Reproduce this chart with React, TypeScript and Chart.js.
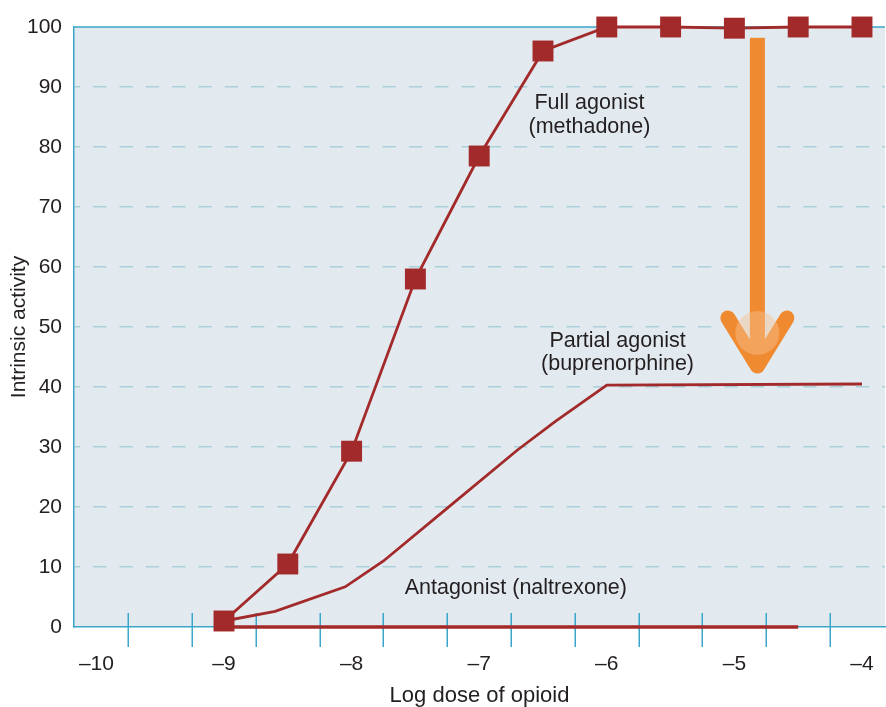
import { useEffect, useRef } from 'react';
import { Chart, registerables } from 'chart.js';

Chart.register(...registerables);

// ---- data ----
const doseSteps = [-9, -8.5, -8, -7.5, -7, -6.5, -6, -5.5, -5, -4.5, -4];
const methadoneActivity = [1, 10.5, 29.3, 58, 78.5, 96, 100, 100, 99.8, 100, 100];

const buprenorphineDose = [-9, -8.6, -8.05, -7.75, -7.25, -6.7, -6.4, -6, -4];
const buprenorphineActivity = [1, 2.6, 6.7, 11, 19.8, 29.5, 34.3, 40.3, 40.5];

const naltrexoneDose = [-9, -4.5];
const naltrexoneActivity = [0, 0];

const xTickValues = [-10, -9, -8, -7, -6, -5, -4];
const xMinorTickValues = [-9.75, -9.25, -8.75, -8.25, -7.75, -7.25, -6.75, -6.25, -5.75, -5.25, -4.75, -4.25];
const yTickValues = [0, 10, 20, 30, 40, 50, 60, 70, 80, 90, 100];

const xMin = -10.1755;
const xMax = -3.8197;

const labelTexts = [
  ['Full agonist', '(methadone)'],
  ['Partial agonist', '(buprenorphine)'],
  ['Antagonist (naltrexone)'],
];
const labelDose = [-6.136, -5.916, -6.713];
const labelActivity = [
  [87.4, 83.3],
  [47.7, 43.85],
  [6.5],
];

const arrowDose = -4.82;
const arrowFromActivity = 98.2;
const arrowToActivity = 43.5;

// ---- styles ----
const RED = '#A32A2A';
const AXIS = '#3AA6C9';
const GRID = '#A9D0DB';
const BG = '#E2EAF0';
const TEXT = '#231F20';
const ORANGE = '#F08A30';
const FONT = "'Liberation Sans', Arial, Helvetica, sans-serif";

const fmt = (v: number) => (v < 0 ? '\u2013' + Math.abs(v) : String(v));

const decorPlugin = {
  id: 'decor',
  beforeDraw(chart: any) {
    const { ctx, chartArea: a } = chart;
    ctx.save();
    ctx.fillStyle = BG;
    ctx.fillRect(a.left, a.top, a.right - a.left, a.bottom - a.top);
    ctx.restore();
  },
  beforeDatasetsDraw(chart: any) {
    const { ctx, chartArea: a } = chart;
    const xs = chart.scales.x;
    const ys = chart.scales.y;
    ctx.save();
    ctx.strokeStyle = AXIS;
    ctx.lineWidth = 1.5;
    ctx.beginPath();
    ctx.moveTo(a.left, a.top);
    ctx.lineTo(a.right, a.top);
    ctx.stroke();
    const y0 = ys.getPixelForValue(0);
    ctx.beginPath();
    for (const v of xMinorTickValues) {
      const px = Math.round(xs.getPixelForValue(v)) + 0.25;
      ctx.moveTo(px, y0 - 14);
      ctx.lineTo(px, y0 + 20);
    }
    ctx.stroke();
    ctx.restore();
  },
  afterDatasetsDraw(chart: any) {
    const { ctx } = chart;
    const xs = chart.scales.x;
    const ys = chart.scales.y;
    ctx.save();
    // labels
    ctx.fillStyle = TEXT;
    ctx.font = `21.5px ${FONT}`;
    ctx.textAlign = 'center';
    ctx.textBaseline = 'middle';
    labelTexts.forEach((lines, i) => {
      const px = xs.getPixelForValue(labelDose[i]);
      lines.forEach((t, j) => {
        ctx.fillText(t, px, ys.getPixelForValue(labelActivity[i][j]));
      });
    });
    // arrow
    const ax = xs.getPixelForValue(arrowDose);
    const top = ys.getPixelForValue(arrowFromActivity);
    const tip = ys.getPixelForValue(arrowToActivity);
    ctx.fillStyle = ORANGE;
    ctx.fillRect(ax - 7.5, top, 15, tip - 10 - top);
    ctx.strokeStyle = ORANGE;
    ctx.lineWidth = 15;
    ctx.lineCap = 'round';
    ctx.lineJoin = 'round';
    ctx.beginPath();
    ctx.moveTo(ax - 29.5, tip - 48);
    ctx.lineTo(ax, tip);
    ctx.lineTo(ax + 29.5, tip - 48);
    ctx.stroke();
    ctx.fillStyle = 'rgba(246, 192, 145, 0.45)';
    ctx.beginPath();
    ctx.arc(ax, tip - 33, 22, 0, Math.PI * 2);
    ctx.fill();
    ctx.restore();
  },
};

export default function App() {
  const ref = useRef<HTMLCanvasElement | null>(null);

  useEffect(() => {
    if (!ref.current) return;
    const chart = new Chart(ref.current, {
      type: 'line',
      data: {
        datasets: [
          {
            label: 'Full agonist (methadone)',
            data: doseSteps.map((x, i) => ({ x, y: methadoneActivity[i] })),
            borderColor: RED,
            borderWidth: 2.8,
            pointStyle: 'rect',
            pointRadius: 14.8,
            pointHoverRadius: 14.8,
            pointBackgroundColor: RED,
            pointBorderWidth: 0,
            tension: 0,
            clip: false,
          },
          {
            label: 'Partial agonist (buprenorphine)',
            data: buprenorphineDose.map((x, i) => ({ x, y: buprenorphineActivity[i] })),
            borderColor: RED,
            borderWidth: 2.8,
            pointRadius: 0,
            tension: 0,
            clip: false,
          },
          {
            label: 'Antagonist (naltrexone)',
            data: naltrexoneDose.map((x, i) => ({ x, y: naltrexoneActivity[i] })),
            borderColor: RED,
            borderWidth: 3.5,
            pointRadius: 0,
            tension: 0,
            clip: false,
          },
        ],
      },
      options: {
        animation: false,
        responsive: false,
        devicePixelRatio: 1,
        layout: { autoPadding: false, padding: { top: 27, right: 1, left: 0, bottom: 0 } },
        plugins: { legend: { display: false }, tooltip: { enabled: false } },
        scales: {
          x: {
            type: 'linear',
            min: xMin,
            max: xMax,
            afterBuildTicks: (s: any) => {
              s.ticks = xTickValues.map((value) => ({ value }));
            },
            afterFit: (s: any) => {
              s.height = 80;
              s.paddingLeft = 0;
              s.paddingRight = 0;
            },
            grid: { display: false, drawTicks: false },
            border: { display: true, color: AXIS, width: 1.5 },
            ticks: {
              padding: 25,
              color: TEXT,
              font: { family: FONT, size: 21 },
              maxRotation: 0,
              autoSkip: false,
              callback: (v: any) => fmt(Number(v)),
            },
            title: {
              display: true,
              text: 'Log dose of opioid',
              color: TEXT,
              font: { family: FONT, size: 22, lineHeight: 1 },
              padding: { top: 0, bottom: 0 },
            },
          },
          y: {
            type: 'linear',
            min: 0,
            max: 100,
            afterBuildTicks: (s: any) => {
              s.ticks = yTickValues.map((value) => ({ value }));
            },
            afterFit: (s: any) => {
              s.width = 74;
              s.paddingTop = 0;
              s.paddingBottom = 0;
            },
            grid: {
              color: (c: any) =>
                c.tick && (c.tick.value === 0 || c.tick.value === 100) ? 'rgba(0,0,0,0)' : GRID,
              lineWidth: 1.5,
              drawTicks: false,
            },
            border: { display: true, color: AXIS, width: 1.5, dash: [13.3, 13], dashOffset: 7.6 },
            ticks: {
              padding: 12,
              color: TEXT,
              font: { family: FONT, size: 21 },
              callback: (v: any) => String(v),
            },
            title: {
              display: true,
              text: 'Intrinsic activity',
              color: TEXT,
              font: { family: FONT, size: 21, lineHeight: 1 },
              padding: { top: 9, bottom: 0 },
            },
          },
        },
      },
      plugins: [decorPlugin],
    } as any);
    return () => chart.destroy();
  }, []);

  return (
    <div style={{ position: 'fixed', left: 0, top: 0, width: 886, height: 707, background: '#fff' }}>
      <canvas ref={ref} width={886} height={707} style={{ display: 'block' }} />
    </div>
  );
}
